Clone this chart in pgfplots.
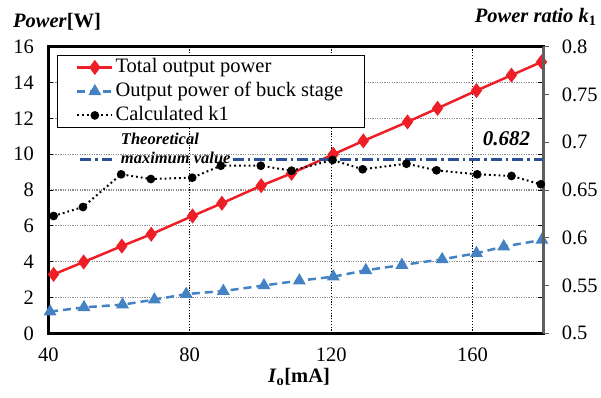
\documentclass[border=0pt]{standalone}
\usepackage{fontspec}
\setmainfont{Liberation Serif}
\usepackage{pgfplots}
\pgfplotsset{compat=1.18}

\definecolor{totred}{RGB}{238,30,38}
\definecolor{buckblue}{RGB}{68,130,196}
\definecolor{theonavy}{RGB}{44,80,150}
\definecolor{gridgray}{RGB}{140,140,140}
\definecolor{raxis}{RGB}{95,95,95}

\newcommand{\bigfont}{\fontsize{20.5}{23}\selectfont}

\pgfplotsset{
  every tick label/.append style={font=\bigfont},
  /pgf/number format/assume math mode=true,
  shortlegend/.style={legend image code/.code={
      \draw[mark repeat=2,mark phase=2,##1] plot coordinates {(0pt,0pt) (17.5pt,0pt) (35pt,0pt)};}},
}

\begin{document}
\begin{tikzpicture}
\path[use as bounding box] (-48.3pt,-63.7pt) rectangle (552.7pt,333.3pt);

% left axis: power in W
\begin{axis}[
  scale only axis, width=495pt, height=286.6pt,
  xmin=40, xmax=180, ymin=0, ymax=16,
  xtick={40,80,120,160}, ytick={0,2,...,16},
  axis line style={black, line width=2.5pt},
  xmajorgrids, ymajorgrids,
  x grid style={black, line width=0.8pt, dash pattern=on 1.2pt off 1.6pt},
  y grid style={gridgray, line width=1.1pt, dash pattern=on 1.2pt off 1.2pt},
  tick align=inside,
  xtick style={draw=none},
  ytick style={black, line width=0.8pt},
  major tick length=5pt,
  yticklabel pos=left,
  xticklabel pos=bottom,
  yticklabel style={xshift=-11pt},
  xticklabel style={yshift=-11.5pt},
  clip=false,
]
\addplot[totred, line width=2.5pt, mark=diamond*, mark size=5.5pt, mark options={solid, fill=totred}]
  coordinates {(41.5,3.29) (50,3.98) (60.8,4.87) (69.1,5.53) (80.8,6.55) (89.1,7.26) (100.2,8.24)
  (108.8,8.93) (120.6,9.99) (129.1,10.74) (141.6,11.80) (150.1,12.56) (161.1,13.55) (171,14.41) (179.5,15.15)};
\addplot[buckblue, line width=2.5pt, dash pattern=on 8pt off 5pt, mark=triangle*, mark size=5pt, mark options={solid, fill=buckblue}]
  coordinates {(40.5,1.21) (50.1,1.45) (61,1.60) (70,1.88) (79,2.19) (89.5,2.36) (101,2.67) (111,2.94)
  (120.6,3.16) (129.8,3.52) (140,3.81) (151.4,4.13) (161.1,4.47) (168.8,4.84) (179.6,5.21)};

\node[font=\bigfont, anchor=center] at (rel axis cs:0.0176,1.086) {\textbf{\textit{Power}[W]}};
\node[font=\bigfont, anchor=base] at (rel axis cs:0.5065,-0.170) {\textbf{\textit{I}\textsubscript{o}[mA]}};
\end{axis}

% right axis: power ratio k1
\begin{axis}[
  scale only axis, width=495pt, height=286.6pt,
  xmin=40, xmax=180, ymin=0.5, ymax=0.8,
  axis x line=none, axis y line*=right,
  y axis line style={raxis, line width=3pt, -},
  ytick={0.5,0.55,0.6,0.65,0.7,0.75,0.8},
  yticklabels={0.5,0.55,0.6,0.65,0.7,0.75,0.8},
  ytick style={raxis, line width=0.8pt},
  tick align=outside, major tick length=6pt,
  yticklabel style={anchor=west, xshift=9pt},
  clip=false,
  legend style={at={(rel axis cs:0.017,0.971)}, anchor=north west, draw=black, line width=0.8pt,
    fill=white, font=\bigfont, inner xsep=19pt, inner ysep=0pt, row sep=0pt,
    nodes={inner sep=2pt, text height=15pt, text depth=5pt}},
  legend cell align=left,
  shortlegend,
]
\addlegendimage{totred, line width=2.5pt, mark=diamond*, mark size=5.5pt, mark options={solid, fill=totred}}
\addlegendentry{Total output power}
\addlegendimage{buckblue, line width=2.5pt, dash pattern=on 8pt off 5pt, mark=triangle*, mark size=5pt, mark options={solid, fill=buckblue}}
\addlegendentry{Output power of buck stage}

% theoretical maximum of k1, interrupted by its label
\addplot[theonavy, line width=3pt, dash pattern=on 11pt off 4pt on 2.5pt off 4pt, forget plot]
  coordinates {(49,0.682) (58,0.682)};
\addplot[theonavy, line width=3pt, dash pattern=on 11pt off 4pt on 2.5pt off 4pt, forget plot]
  coordinates {(92.2,0.682) (180,0.682)};

\addplot[black, line width=2pt, dash pattern=on 1.8pt off 3pt, mark=*, mark size=3.3pt, mark options={solid}]
  coordinates {(41.5,0.6228) (49.8,0.6322) (60.6,0.6664) (69,0.6615) (80.7,0.6629) (88.8,0.6754) (100.1,0.6754)
  (108.8,0.6702) (120.4,0.6814) (128.9,0.6717) (141.3,0.6775) (149.8,0.6706) (161.3,0.6664) (171,0.6647) (179.3,0.6560)};
\addlegendentry{Calculated k1}

\node[font=\fontsize{16.5}{19}\selectfont\bfseries\itshape, align=left, anchor=west, inner sep=0pt]
  at (axis cs:60.5,0.6935) {Theoretical\\maximum value};
\node[font=\fontsize{21}{24}\selectfont\bfseries\itshape, anchor=center] at (axis cs:169.6,0.704) {0.682};
\node[font=\bigfont, anchor=east] at (rel axis cs:1.1145,1.1036) {\textbf{\textit{Power ratio k}\textsubscript{1}}};
\end{axis}
\end{tikzpicture}
\end{document}
